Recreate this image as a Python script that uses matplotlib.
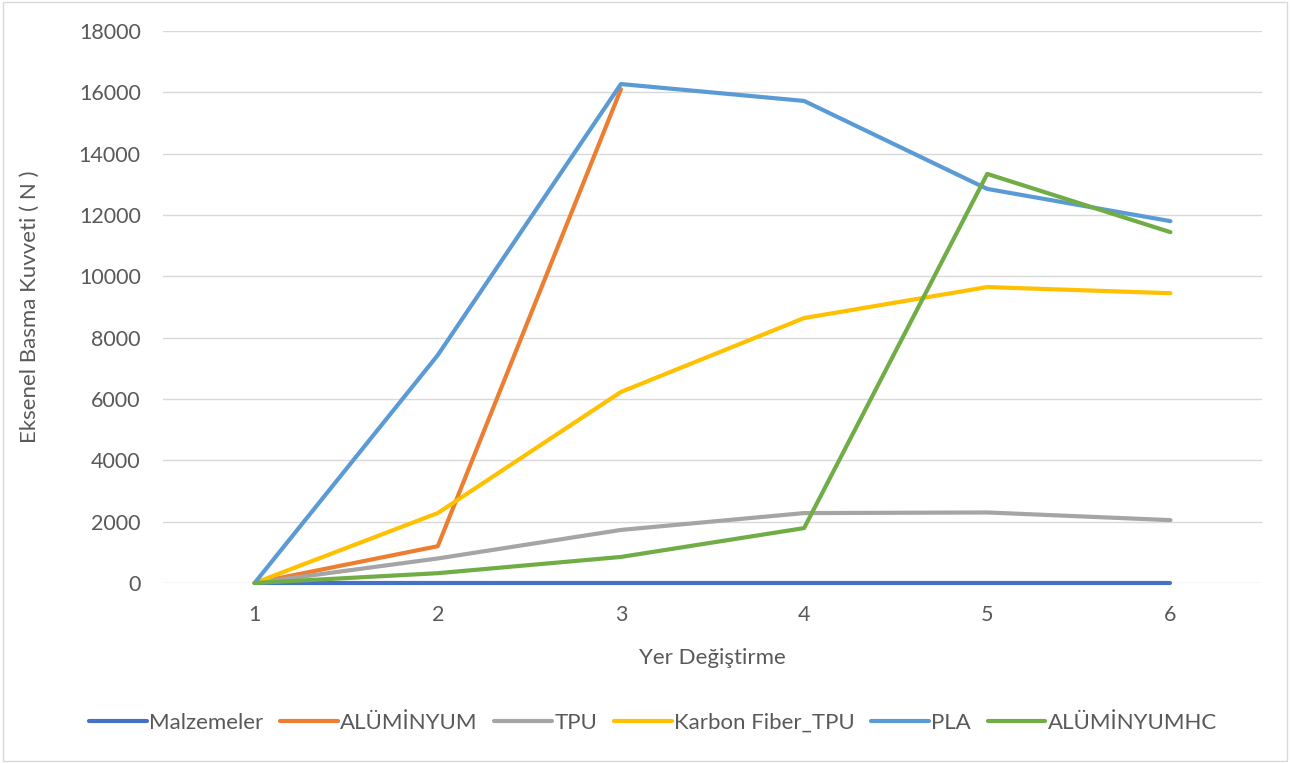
import matplotlib
matplotlib.use("Agg")
import matplotlib.pyplot as plt

plt.rcParams['font.family'] = ['Lato', 'DejaVu Sans']

x = [1, 2, 3, 4, 5, 6]
malzemeler = [0, 0, 0, 0, 0, 0]
aluminyum = [0, 1200, 16100]
tpu = [0, 800, 1730, 2280, 2300, 2050]
karbon = [0, 2280, 6230, 8640, 9650, 9450]
pla = [0, 7430, 16270, 15720, 12850, 11800]
aluminyumhc = [0, 320, 850, 1790, 13340, 11440]

series = [
    ("Malzemeler", malzemeler, "#4472C4"),
    ("ALÜMİNYUM", aluminyum, "#ED7D31"),
    ("TPU", tpu, "#A5A5A5"),
    ("Karbon Fiber_TPU", karbon, "#FFC000"),
    ("PLA", pla, "#5B9BD5"),
    ("ALÜMİNYUMHC", aluminyumhc, "#70AD47"),
]

W, H = 1290, 763
fig = plt.figure(figsize=(W/100, H/100), dpi=100)
ax = fig.add_axes([163/W, 1 - 583/H, (1262-163)/W, (583-31)/H])

for name, vals, col in series:
    ax.plot(x[:len(vals)], vals, color=col, lw=3, label=name, clip_on=False,
            solid_capstyle='round', solid_joinstyle='round')

ax.set_xlim(0.5, 6.5)
ax.set_ylim(0, 18000)
ax.set_yticks(range(0, 18001, 2000))
ax.set_xticks(x)
ax.grid(axis='y', color='#D9D9D9', lw=1)
ax.set_axisbelow(True)
for s in ax.spines.values():
    s.set_visible(False)
ax.tick_params(axis='y', length=0, labelsize=15.5, colors='#595959', pad=16)
ax.tick_params(axis='x', length=0, labelsize=15.5, colors='#595959', pad=16)

ax.set_xlabel("Yer Değiştirme", fontsize=16, color='#595959')
ax.set_ylabel("Eksenel Basma Kuvveti ( N )", fontsize=16, color='#595959')
ax.xaxis.label.set_va('center')
ax.yaxis.label.set_va('center')
ax.xaxis.set_label_coords(0.5, (583-658)/552)
ax.yaxis.set_label_coords((30-163)/1099, 0.5)

leg = ax.legend(loc='center', bbox_to_anchor=((653-163)/1099, (583-723)/552),
                ncol=6, frameon=False, fontsize=16, handlelength=2.6, columnspacing=0.75,
                handletextpad=0.1)
for t in leg.get_texts():
    t.set_color('#595959')

fig.patches.append(plt.Rectangle((0.002, 0.002), 0.996, 0.996, transform=fig.transFigure,
                                 fill=False, edgecolor='#D9D9D9', lw=1))

fig.savefig("out.png", dpi=100)
